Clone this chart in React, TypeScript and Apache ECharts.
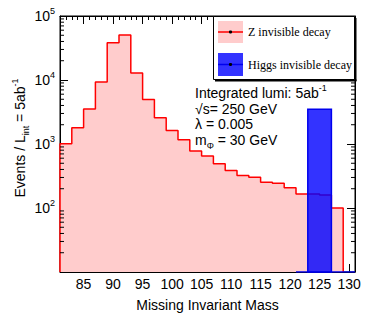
import React, { useEffect, useRef } from 'react';
import * as echarts from 'echarts';

// Z invisible decay histogram (2 GeV bins): lower bin edges and counts
const zBinLow = [81, 83, 85, 87, 89, 91, 93, 95, 97, 99, 101, 103, 105, 107, 109, 111, 113, 115, 117, 119, 121, 123, 125, 127];
const zLastEdge = 129;
const zCounts = [1010, 1800, 3520, 9300, 38200, 50400, 12900, 4950, 2580, 1630, 1170, 775, 650, 491, 385, 322, 303, 253, 244, 207, 166, 166, 160, 100];

// Higgs invisible decay histogram
const higgsBinLow = [123];
const higgsBinHigh = [127];
const higgsCounts = [3500];
const higgsBaseline = [121, 131];

const X_MIN = 81;
const X_MAX = 131;
const Y_MIN = 10;
const Y_MAX = 100000;
const minorMultipliers = [2, 3, 4, 5, 6, 7, 8, 9];
const minorDecades = [10, 100, 1000, 10000];

const SANS = '"Liberation Sans", Arial, Helvetica, sans-serif';
const SERIF = '"Liberation Serif", "Times New Roman", serif';

export default function App() {
  const ref = useRef<HTMLDivElement>(null);

  useEffect(() => {
    if (!ref.current) return;
    const chart = echarts.init(ref.current, null, { renderer: 'svg' });

    const zData: number[][] = [[zBinLow[0], Y_MIN]];
    zBinLow.forEach((x, i) => zData.push([x, zCounts[i]]));
    zData.push([zLastEdge, zCounts[zCounts.length - 1]]);
    zData.push([zLastEdge, Y_MIN]);

    const higgsData = higgsBinLow.map((x, i) => [x, higgsBinHigh[i], higgsCounts[i]]);

    const minorY: number[][] = [];
    minorDecades.forEach((d) => minorMultipliers.forEach((m) => minorY.push([X_MIN, d * m])));

    const supRich = {
      b: { fontSize: 14, fontFamily: SANS, color: '#000', lineHeight: 20 },
      s: { fontSize: 9, fontFamily: SANS, color: '#000', lineHeight: 6, verticalAlign: 'top' as const },
    };

    const xMajorBase = {
      type: 'value' as const,
      min: X_MIN,
      max: X_MAX,
      minInterval: 5,
      maxInterval: 5,
      splitNumber: 10,
      splitLine: { show: false },
      axisTick: { inside: true, length: 8, lineStyle: { color: '#000', width: 1 } },
    };
    const xMinorBase = {
      type: 'value' as const,
      min: X_MIN,
      max: X_MAX,
      interval: 1,
      splitLine: { show: false },
      axisLine: { show: false },
      axisLabel: { show: false },
      axisTick: { inside: true, length: 4, lineStyle: { color: '#000', width: 1 } },
    };
    const yBase = {
      type: 'log' as const,
      logBase: 10,
      min: Y_MIN,
      max: Y_MAX,
      splitLine: { show: false },
      axisLine: { show: true, lineStyle: { color: '#000', width: 1 } },
      axisTick: { inside: true, length: 8, lineStyle: { color: '#000', width: 1 } },
    };

    const text = (x: number, y: number, t: string, rich: any = {}) => ({
      type: 'text',
      x,
      y,
      style: {
        text: t,
        fontSize: 14,
        fontFamily: SANS,
        fill: '#000',
        align: 'left',
        verticalAlign: 'middle',
        rich,
      },
    });

    const annRich = {
      m: { fontSize: 14, fontFamily: SANS, fill: '#000', lineHeight: 20 },
      s: { fontSize: 9, fontFamily: SANS, fill: '#000', lineHeight: 6, verticalAlign: 'top' },
      d: { fontSize: 9, fontFamily: SANS, fill: '#000', lineHeight: 6, verticalAlign: 'bottom' },
    };

    chart.setOption({
      animation: false,
      backgroundColor: '#fff',
      grid: { left: 60, right: 19, top: 16, bottom: 52, show: true, borderColor: '#000', borderWidth: 1, containLabel: false },
      xAxis: [
        {
          ...xMajorBase,
          position: 'bottom',
          axisLine: { show: true, lineStyle: { color: '#000', width: 1 } },
          axisLabel: {
            show: true,
            margin: 5,
            fontSize: 14,
            fontFamily: SANS,
            color: '#000',
            formatter: (v: number) => (v > X_MIN && v < X_MAX && v % 5 === 0 ? String(v) : ''),
          },
          name: 'Missing Invariant Mass',
          nameLocation: 'middle',
          nameGap: 26,
          nameTextStyle: { fontSize: 14, fontFamily: SANS, color: '#000' },
        },
        { ...xMinorBase, position: 'bottom' },
        { ...xMajorBase, position: 'top', axisLine: { show: true, lineStyle: { color: '#000' } }, axisLabel: { show: false } },
        { ...xMinorBase, position: 'top' },
      ],
      yAxis: [
        {
          ...yBase,
          position: 'left',
          axisLabel: {
            show: true,
            margin: 5,
            formatter: (v: number) => {
              const e = Math.round(Math.log10(v));
              return e <= 1 ? '' : `{b|10}{s|${e}}`;
            },
            rich: supRich,
          },
        },
        { ...yBase, position: 'right', axisLabel: { show: false } },
      ],
      series: [
        {
          type: 'line',
          xAxisIndex: 0,
          yAxisIndex: 0,
          data: zData,
          step: 'end',
          symbol: 'none',
          lineStyle: { color: '#ff0000', width: 1.5 },
          areaStyle: { color: '#ffcccc', opacity: 1, origin: 'start' },
          z: 2,
        },
        {
          type: 'custom',
          xAxisIndex: 0,
          yAxisIndex: 0,
          data: higgsData,
          encode: { x: [0, 1], y: 2 },
          renderItem: (params: any, api: any) => {
            const p0 = api.coord([api.value(0), api.value(2)]);
            const p1 = api.coord([api.value(1), Y_MIN]);
            return {
              type: 'rect',
              shape: { x: p0[0], y: p0[1], width: p1[0] - p0[0], height: p1[1] - p0[1] },
              style: { fill: 'rgba(0,0,255,0.8)', stroke: '#0000ee', lineWidth: 1.5 },
            };
          },
          z: 3,
        },
        {
          type: 'line',
          xAxisIndex: 0,
          yAxisIndex: 0,
          data: higgsBaseline.map((x) => [x, Y_MIN]),
          symbol: 'none',
          lineStyle: { color: '#0000ee', width: 1.5 },
          z: 3,
        },
        {
          type: 'custom',
          xAxisIndex: 0,
          yAxisIndex: 0,
          data: minorY,
          encode: { x: 0, y: 1 },
          renderItem: (params: any, api: any) => {
            const v = api.value(1);
            const l = api.coord([X_MIN, v]);
            const r = api.coord([X_MAX, v]);
            return {
              type: 'group',
              children: [
                { type: 'line', shape: { x1: l[0], y1: l[1], x2: l[0] + 4, y2: l[1] }, style: { stroke: '#000', lineWidth: 1 } },
                { type: 'line', shape: { x1: r[0] - 4, y1: r[1], x2: r[0], y2: r[1] }, style: { stroke: '#000', lineWidth: 1 } },
              ],
            };
          },
          z: 4,
        },
      ],
      graphic: [
        // y axis title
        {
          type: 'text',
          x: 20,
          y: 138,
          rotation: Math.PI / 2,
          style: {
            text: '{m|Events / L}{d|int}{m| = 5ab}{s|-1}',
            align: 'center',
            verticalAlign: 'middle',
            rich: annRich,
          },
        },
        // annotations
        text(195, 93, '{m|Integrated lumi: 5ab}{s|-1}', annRich),
        text(195, 108.5, '{m|√s= 250 GeV}', annRich),
        text(195, 124, '{m|λ = 0.005}', annRich),
        text(195, 140, '{m|m}{d|Φ}{m| = 30 GeV}', annRich),
        // legend box with shadow
        { type: 'rect', shape: { x: 213.5, y: 16.5, width: 141, height: 63 }, style: { fill: '#fff', stroke: '#000', lineWidth: 1 }, z: 10 },
        { type: 'line', shape: { x1: 355.5, y1: 18, x2: 355.5, y2: 81 }, style: { stroke: '#000', lineWidth: 2 }, z: 10 },
        { type: 'line', shape: { x1: 215, y1: 80.5, x2: 356.5, y2: 80.5 }, style: { stroke: '#000', lineWidth: 2 }, z: 10 },
        { type: 'rect', shape: { x: 218, y: 21, width: 25, height: 22 }, style: { fill: '#ffcccc' }, z: 11 },
        { type: 'line', shape: { x1: 218, y1: 32, x2: 243, y2: 32 }, style: { stroke: '#ff0000', lineWidth: 1.5 }, z: 12 },
        { type: 'circle', shape: { cx: 230.5, cy: 32, r: 1.6 }, style: { fill: '#000' }, z: 13 },
        { type: 'text', x: 248, y: 32, style: { text: 'Z invisible decay', fontSize: 12, fontFamily: SERIF, fill: '#000', align: 'left', verticalAlign: 'middle' }, z: 12 },
        { type: 'rect', shape: { x: 218, y: 53, width: 25, height: 23 }, style: { fill: 'rgba(0,0,255,0.8)' }, z: 11 },
        { type: 'line', shape: { x1: 218, y1: 64.5, x2: 243, y2: 64.5 }, style: { stroke: '#0000ee', lineWidth: 1.5 }, z: 12 },
        { type: 'circle', shape: { cx: 230.5, cy: 64.5, r: 1.6 }, style: { fill: '#000' }, z: 13 },
        { type: 'text', x: 248, y: 64.5, style: { text: 'Higgs invisible decay', fontSize: 12, fontFamily: SERIF, fill: '#000', align: 'left', verticalAlign: 'middle' }, z: 12 },
      ],
    });

    return () => chart.dispose();
  }, []);

  return <div ref={ref} style={{ position: 'fixed', left: 0, top: 0, width: 374, height: 324 }} />;
}
